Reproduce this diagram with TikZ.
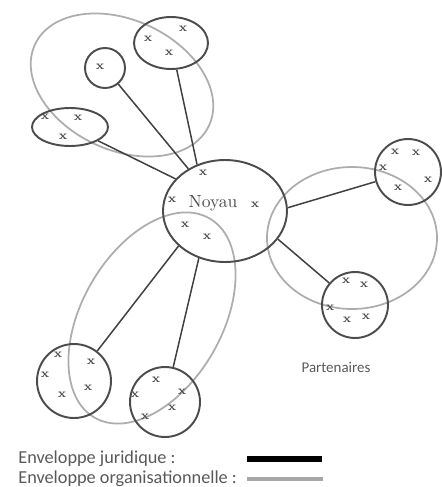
\documentclass[tikz,border=0pt]{standalone}
\usepackage{fontspec}
\newfontfamily\legendefont{Carlito}
\usetikzlibrary{shapes.geometric}

\tikzset{
  noeud/.style={ellipse, draw=black!70, line width=1.1pt, inner sep=0pt},
  cercle/.style={circle, draw=black!70, line width=1.1pt, inner sep=0pt},
  lien/.style={draw=black!75, line width=0.85pt},
  orga/.style={draw=black!32, line width=1pt},
  marque/.style={font=\scriptsize\bfseries, text=black!70, inner sep=0pt},
  legende/.style={font=\legendefont\fontsize{10.4}{12}\selectfont, text=black!65, inner sep=0pt, anchor=west}
}

\begin{document}
\begin{tikzpicture}[x=0.02cm, y=0.02cm]
\useasboundingbox (0,0) rectangle (442,-487);

% enveloppes organisationnelles
\draw[orga, rotate around={-25:(122,-85)}] (122,-85) ellipse [x radius=96, y radius=65];
\draw[orga] (352,-238) ellipse [x radius=85, y radius=71];
\draw[orga, rotate around={60:(152,-318)}] (152,-318) ellipse [x radius=115, y radius=70];

% noyau et partenaires
\node[noeud, minimum width=2.48cm, minimum height=2.04cm] (noyau) at (225,-211) {};
\node[text=black!70] (titre) at (213,-203) {Noyau};
\node[cercle, minimum size=0.8cm] (petit) at (105,-68) {};
\node[noeud, minimum width=1.48cm, minimum height=1.04cm] (haut) at (171,-43) {};
\node[noeud, minimum width=1.52cm, minimum height=0.76cm] (gauche) at (70,-127) {};
\node[cercle, minimum size=1.32cm] (droiteh) at (408,-172) {};
\node[cercle, minimum size=1.32cm] (droiteb) at (355,-305) {};
\node[cercle, minimum size=1.48cm] (basg) at (74,-381) {};
\node[cercle, minimum size=1.4cm] (basd) at (165,-402) {};

% liens juridiques
\draw[lien] (petit) -- (noyau.131);
\draw[lien] (haut) -- (noyau.121);
\draw[lien] (gauche) -- (noyau.147);
\draw[lien] (noyau.3) -- (droiteh);
\draw[lien] (noyau.-28) -- (droiteb);
\draw[lien] (noyau.217) -- (basg);
\draw[lien] (noyau.241) -- (basd);

% membres
\foreach \px/\py [count=\i] in {203/173, 172/200, 255/205, 185/225, 207/237,
    100/67, 148/39, 183/29, 169/53, 45/117, 78/118, 63/137,
    395/152, 416/153, 383/168, 428/180, 398/188,
    346/281, 364/285, 330/308, 347/320, 366/317,
    58/355, 91/362, 45/375, 88/388, 62/395,
    156/380, 182/392, 135/395, 172/408, 145/417}
  \node[marque] (m\i) at (\px,-\py) {x};

\node[legende, anchor=center, font=\legendefont\fontsize{8.5}{10}\selectfont] (part) at (336,-367) {Partenaires};

% legende
\node[legende] (lj) at (18,-459) {Enveloppe juridique :};
\node[legende] (lo) at (18,-479) {Enveloppe organisationnelle :};
\coordinate (j1) at (247,-459);
\coordinate (j2) at (322,-459);
\coordinate (o1) at (247,-479);
\coordinate (o2) at (323,-479);
\draw[line width=3pt, black] (j1) -- (j2);
\draw[line width=2pt, black!35] (o1) -- (o2);

\end{tikzpicture}
\end{document}
